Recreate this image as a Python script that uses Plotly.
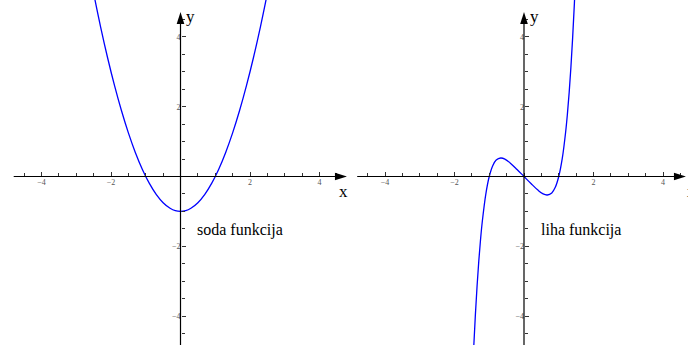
import plotly.graph_objects as go

# Even function: parabola samples
even_x = [-2.5, -2.3, -2.1, -1.9, -1.7, -1.5, -1.3, -1.1, -0.9, -0.7, -0.5, -0.3, -0.15, 0.0,
          0.15, 0.3, 0.5, 0.7, 0.9, 1.1, 1.3, 1.5, 1.7, 1.9, 2.1, 2.3, 2.5]
even_y = [5.25, 4.29, 3.41, 2.61, 1.89, 1.25, 0.69, 0.21, -0.19, -0.51, -0.75, -0.91, -0.98, -1.0,
          -0.98, -0.91, -0.75, -0.51, -0.19, 0.21, 0.69, 1.25, 1.89, 2.61, 3.41, 4.29, 5.25]

# Odd function samples
odd_x = [-1.5, -1.45, -1.4, -1.35, -1.3, -1.25, -1.2, -1.1, -1.0, -0.9, -0.8, -0.67, -0.55, -0.4, -0.2, 0.0,
         0.2, 0.4, 0.55, 0.67, 0.8, 0.9, 1.0, 1.1, 1.2, 1.25, 1.3, 1.35, 1.4, 1.45, 1.5]
odd_y = [-6.09, -4.96, -3.98, -3.13, -2.41, -1.80, -1.29, -0.51, 0.0, 0.31, 0.47, 0.53, 0.50, 0.39, 0.20, 0.0,
         -0.20, -0.39, -0.50, -0.53, -0.47, -0.31, 0.0, 0.51, 1.29, 1.80, 2.41, 3.13, 3.98, 4.96, 6.09]

tick_vals = [-4, -2, 2, 4]
tick_text = ["\u22124", "\u22122", "2", "4"]
minor_vals = [k / 2 for k in range(-9, 10)]

labels = ["soda funkcija", "liha funkcija"]

W, H = 688, 345
SERIF = "Liberation Serif, Times New Roman, serif"

fig = go.Figure()
fig.add_trace(go.Scatter(x=even_x, y=even_y, mode="lines", line=dict(color="#0000ff", width=1.3, shape="spline"),
                         xaxis="x", yaxis="y", hoverinfo="skip"))
fig.add_trace(go.Scatter(x=odd_x, y=odd_y, mode="lines", line=dict(color="#0000ff", width=1.3, shape="spline"),
                         xaxis="x2", yaxis="y2", hoverinfo="skip"))

y_range = [-4.828, 5.057]
y_zero_frac = -y_range[0] / (y_range[1] - y_range[0])
y_scale = H / (y_range[1] - y_range[0])

def xaxis_cfg(domain, rng, ypos):
    return dict(domain=domain, range=rng, anchor="free", position=ypos,
                showline=False, zeroline=False, showgrid=False,
                ticks="inside", ticklen=4, tickwidth=1, tickcolor="#333",
                tickvals=tick_vals, ticktext=tick_text,
                tickfont=dict(family=SERIF, size=8, color="#555"),
                minor=dict(tickvals=minor_vals, ticks="inside", ticklen=3, tickcolor="#333", tickwidth=1),
                fixedrange=True)

def yaxis_cfg(xpos):
    return dict(domain=[0, 1], range=y_range, anchor="free", position=xpos,
                showline=False, zeroline=False, showgrid=False,
                ticks="inside", ticklen=4, tickwidth=1, tickcolor="#333",
                tickvals=tick_vals, ticktext=tick_text,
                tickfont=dict(family=SERIF, size=8, color="#555"),
                minor=dict(tickvals=minor_vals, ticks="inside", ticklen=3, tickcolor="#333", tickwidth=1),
                fixedrange=True)

x_scale = 34.75
o1, o2 = 180.5, 524.0
x1_rng = [(12 - o1) / x_scale, (349 - o1) / x_scale]
x2_rng = [(355.5 - o2) / x_scale, (688 - o2) / x_scale]

fig.update_layout(
    width=W, height=H, margin=dict(l=0, r=0, t=0, b=0),
    paper_bgcolor="white", plot_bgcolor="white", showlegend=False,
    xaxis=xaxis_cfg([12 / W, 349 / W], x1_rng, y_zero_frac),
    yaxis=yaxis_cfg(o1 / W),
    xaxis2=xaxis_cfg([355.5 / W, 1.0], x2_rng, y_zero_frac),
    yaxis2=yaxis_cfg(o2 / W),
)

HEAD_LEN, HEAD_HALF = 12.0, 3.8  # arrowhead size in pixels

def x_arrow(xa, ya, tip):
    L = HEAD_LEN / x_scale
    h = HEAD_HALF / y_scale
    return dict(type="path", xref=xa, yref=ya, line=dict(width=0), fillcolor="black",
                path=f"M{tip},0 L{tip - L},{h} L{tip - L},{-h} Z")

def y_arrow(xa, ya, tip):
    L = HEAD_LEN / y_scale
    h = HEAD_HALF / x_scale
    return dict(type="path", xref=xa, yref=ya, line=dict(width=0), fillcolor="black",
                path=f"M0,{tip} L{h},{tip - L} L{-h},{tip - L} Z")

# (x-axis ref, y-axis ref, caption, arrow tip, x-label position, x-label anchor)
panels = [("x", "y", labels[0], 4.79, 4.68, "center"), ("x2", "y2", labels[1], 4.66, 4.62, "left")]
y_tip = 4.71
for xa, ya, label, x_tip, x_lab, x_anchor in panels:
    fig.add_shape(type="line", xref=xa, yref=ya, x0=-4.8, x1=x_tip - 0.2, y0=0, y1=0,
                  line=dict(color="black", width=1.2))
    fig.add_shape(type="line", xref=xa, yref=ya, x0=0, x1=0, y0=-4.9, y1=y_tip - 0.2,
                  line=dict(color="black", width=1.2))
    fig.add_shape(x_arrow(xa, ya, x_tip))
    fig.add_shape(y_arrow(xa, ya, y_tip))
    fig.add_annotation(x=x_lab, y=-0.43, xref=xa, yref=ya, text="x", showarrow=False,
                       xanchor=x_anchor, font=dict(family=SERIF, size=17, color="black"))
    fig.add_annotation(x=0.3, y=4.58, xref=xa, yref=ya, text="y", showarrow=False,
                       font=dict(family=SERIF, size=17, color="black"))
    fig.add_annotation(x=0.42, y=-1.53, xref=xa, yref=ya, text=label, showarrow=False,
                       xanchor="left", font=dict(family=SERIF, size=16, color="black"))

fig.write_html("out.html")
